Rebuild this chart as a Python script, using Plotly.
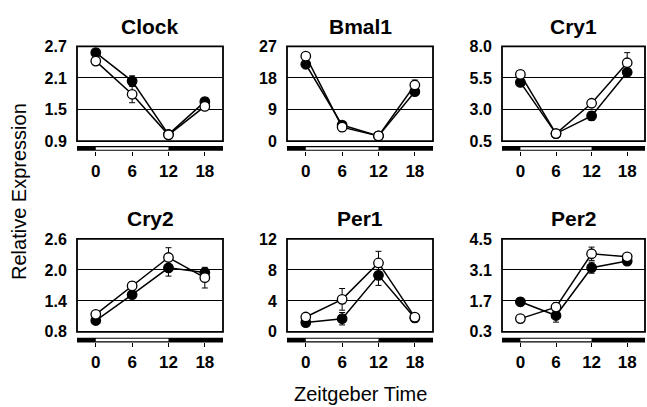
import plotly.graph_objects as go

# ---------------- data ----------------
ZT = [0, 6, 12, 18]
LIGHT_ON, LIGHT_OFF = 0, 12
genes = ["Clock", "Bmal1", "Cry1", "Cry2", "Per1", "Per2"]

clock_filled = [2.58, 2.04, 1.03, 1.65]
clock_filled_err = [0.07, 0.10, 0.02, 0.08]
clock_open = [2.42, 1.79, 1.02, 1.56]
clock_open_err = [0.05, 0.16, 0.02, 0.05]

bmal1_filled = [21.9, 4.6, 1.5, 14.1]
bmal1_filled_err = [0.8, 1.0, 0.4, 1.0]
bmal1_open = [24.2, 4.0, 1.5, 16.0]
bmal1_open_err = [0.8, 1.2, 0.4, 1.4]

cry1_filled = [5.15, 1.1, 2.5, 5.95]
cry1_filled_err = [0.2, 0.1, 0.35, 0.2]
cry1_open = [5.78, 1.1, 3.5, 6.7]
cry1_open_err = [0.15, 0.1, 0.25, 0.8]

cry2_filled = [1.02, 1.52, 2.04, 1.95]
cry2_filled_err = [0.05, 0.07, 0.16, 0.07]
cry2_open = [1.14, 1.69, 2.24, 1.85]
cry2_open_err = [0.04, 0.08, 0.19, 0.2]

per1_filled = [1.2, 1.7, 7.3, 1.8]
per1_filled_err = [0.3, 0.8, 1.3, 0.5]
per1_open = [1.92, 4.2, 8.9, 1.9]
per1_open_err = [0.3, 1.4, 1.5, 0.4]

per2_filled = [1.66, 1.04, 3.2, 3.5]
per2_filled_err = [0.18, 0.3, 0.25, 0.1]
per2_open = [0.9, 1.42, 3.83, 3.69]
per2_open_err = [0.08, 0.2, 0.3, 0.15]

clock_ticks = [0.9, 1.5, 2.1, 2.7]
bmal1_ticks = [0, 9, 18, 27]
cry1_ticks = [0.5, 3.0, 5.5, 8.0]
cry2_ticks = [0.8, 1.4, 2.0, 2.6]
per1_ticks = [0, 4, 8, 12]
per2_ticks = [0.3, 1.7, 3.1, 4.5]

clock_ticktext = ["0.9", "1.5", "2.1", "2.7"]
bmal1_ticktext = ["0", "9", "18", "27"]
cry1_ticktext = ["0.5", "3.0", "5.5", "8.0"]
cry2_ticktext = ["0.8", "1.4", "2.0", "2.6"]
per1_ticktext = ["0", "4", "8", "12"]
per2_ticktext = ["0.3", "1.7", "3.1", "4.5"]

x_ticktext = ["0", "6", "12", "18"]

panels = [
    (clock_filled, clock_filled_err, clock_open, clock_open_err, clock_ticks, clock_ticktext),
    (bmal1_filled, bmal1_filled_err, bmal1_open, bmal1_open_err, bmal1_ticks, bmal1_ticktext),
    (cry1_filled, cry1_filled_err, cry1_open, cry1_open_err, cry1_ticks, cry1_ticktext),
    (cry2_filled, cry2_filled_err, cry2_open, cry2_open_err, cry2_ticks, cry2_ticktext),
    (per1_filled, per1_filled_err, per1_open, per1_open_err, per1_ticks, per1_ticktext),
    (per2_filled, per2_filled_err, per2_open, per2_open_err, per2_ticks, per2_ticktext),
]

# ---------------- layout geometry (pixels) ----------------
W, H = 647, 407
cols = [(77, 223), (287, 433), (502, 645)]
rows = [(40, 139), (241, 338)]
bars = [(144, 149), (344, 349)]
XR = [-3.1, 21]
FONT = "Liberation Sans, Arial, Helvetica, sans-serif"


def px(x):
    return x / W


def py(y):
    return 1 - y / H


fig = go.Figure()
layout = dict(
    width=W, height=H, margin=dict(l=0, r=0, t=0, b=0),
    paper_bgcolor="white", plot_bgcolor="white", showlegend=False,
    font=dict(family=FONT, color="black"),
)
shapes = []
annotations = []

for i, (gene, (fy, fe, oy, oe, yt, ytt)) in enumerate(zip(genes, panels)):
    r, c = divmod(i, 3)
    n = "" if i == 0 else str(i + 1)
    xa, ya = "x" + n, "y" + n
    x0p, x1p = cols[c]
    y0p, y1p = rows[r]
    b0, b1 = bars[r]

    for vals, errs, fill in [(fy, fe, "black"), (oy, oe, "white")]:
        fig.add_trace(go.Scatter(
            x=ZT, y=vals, xaxis=xa, yaxis=ya, mode="lines+markers",
            line=dict(color="black", width=1.5),
            marker=dict(size=9.5, color=fill, line=dict(color="black", width=1.3)),
            error_y=dict(type="data", array=errs, color="black", thickness=1, width=3),
            cliponaxis=False,
        ))

    layout["xaxis" + n] = dict(
        domain=[px(x0p), px(x1p)], range=XR, anchor="free", position=py(b1),
        tickvals=ZT, ticktext=x_ticktext, ticks="outside", ticklen=4,
        tickcolor="black", tickwidth=1, showline=False, showgrid=False,
        zeroline=False, tickfont=dict(size=17, family=FONT, weight="bold"),
        ticklabelstandoff=1 if r == 0 else 0, fixedrange=True,
    )
    layout["yaxis" + n] = dict(
        domain=[py(y1p), py(y0p)], range=[yt[0], yt[-1]], anchor=xa,
        tickvals=yt, ticktext=ytt, ticks="outside", ticklen=6,
        tickcolor="rgba(0,0,0,0)", showline=False, showgrid=True,
        gridcolor="black", gridwidth=1, zeroline=False,
        tickfont=dict(size=16, family=FONT, weight="bold"), fixedrange=True,
    )
    # frame
    shapes.append(dict(type="rect", xref=xa + " domain", yref=ya + " domain",
                       x0=0, x1=1, y0=0, y1=1, line=dict(color="black", width=1.8),
                       layer="above"))
    # light/dark bar
    shapes.append(dict(type="rect", xref=xa, yref="paper", x0=XR[0], x1=XR[1],
                       y0=py(b1), y1=py(b0), fillcolor="black",
                       line=dict(width=0)))
    shapes.append(dict(type="rect", xref=xa, yref="paper", x0=LIGHT_ON, x1=LIGHT_OFF,
                       y0=py(b1 - 1.2), y1=py(b0 + 1.2), fillcolor="white",
                       line=dict(width=0)))
    # title
    annotations.append(dict(text=gene, xref="paper", yref="paper",
                            x=px((x0p + x1p) / 2), y=py(y0p - 21),
                            xanchor="center", yanchor="middle", showarrow=False,
                            font=dict(size=21, family=FONT, weight="bold")))

annotations.append(dict(text="Relative Expression", xref="paper", yref="paper",
                        x=px(19), y=py(192), textangle=-90, showarrow=False,
                        xanchor="center", yanchor="middle",
                        font=dict(size=20, family=FONT)))
annotations.append(dict(text="Zeitgeber Time", xref="paper", yref="paper",
                        x=px(360), y=py(403), showarrow=False,
                        xanchor="center", yanchor="middle",
                        font=dict(size=20, family=FONT)))

layout["shapes"] = shapes
layout["annotations"] = annotations
fig.update_layout(**layout)
fig.write_html("out.html")
